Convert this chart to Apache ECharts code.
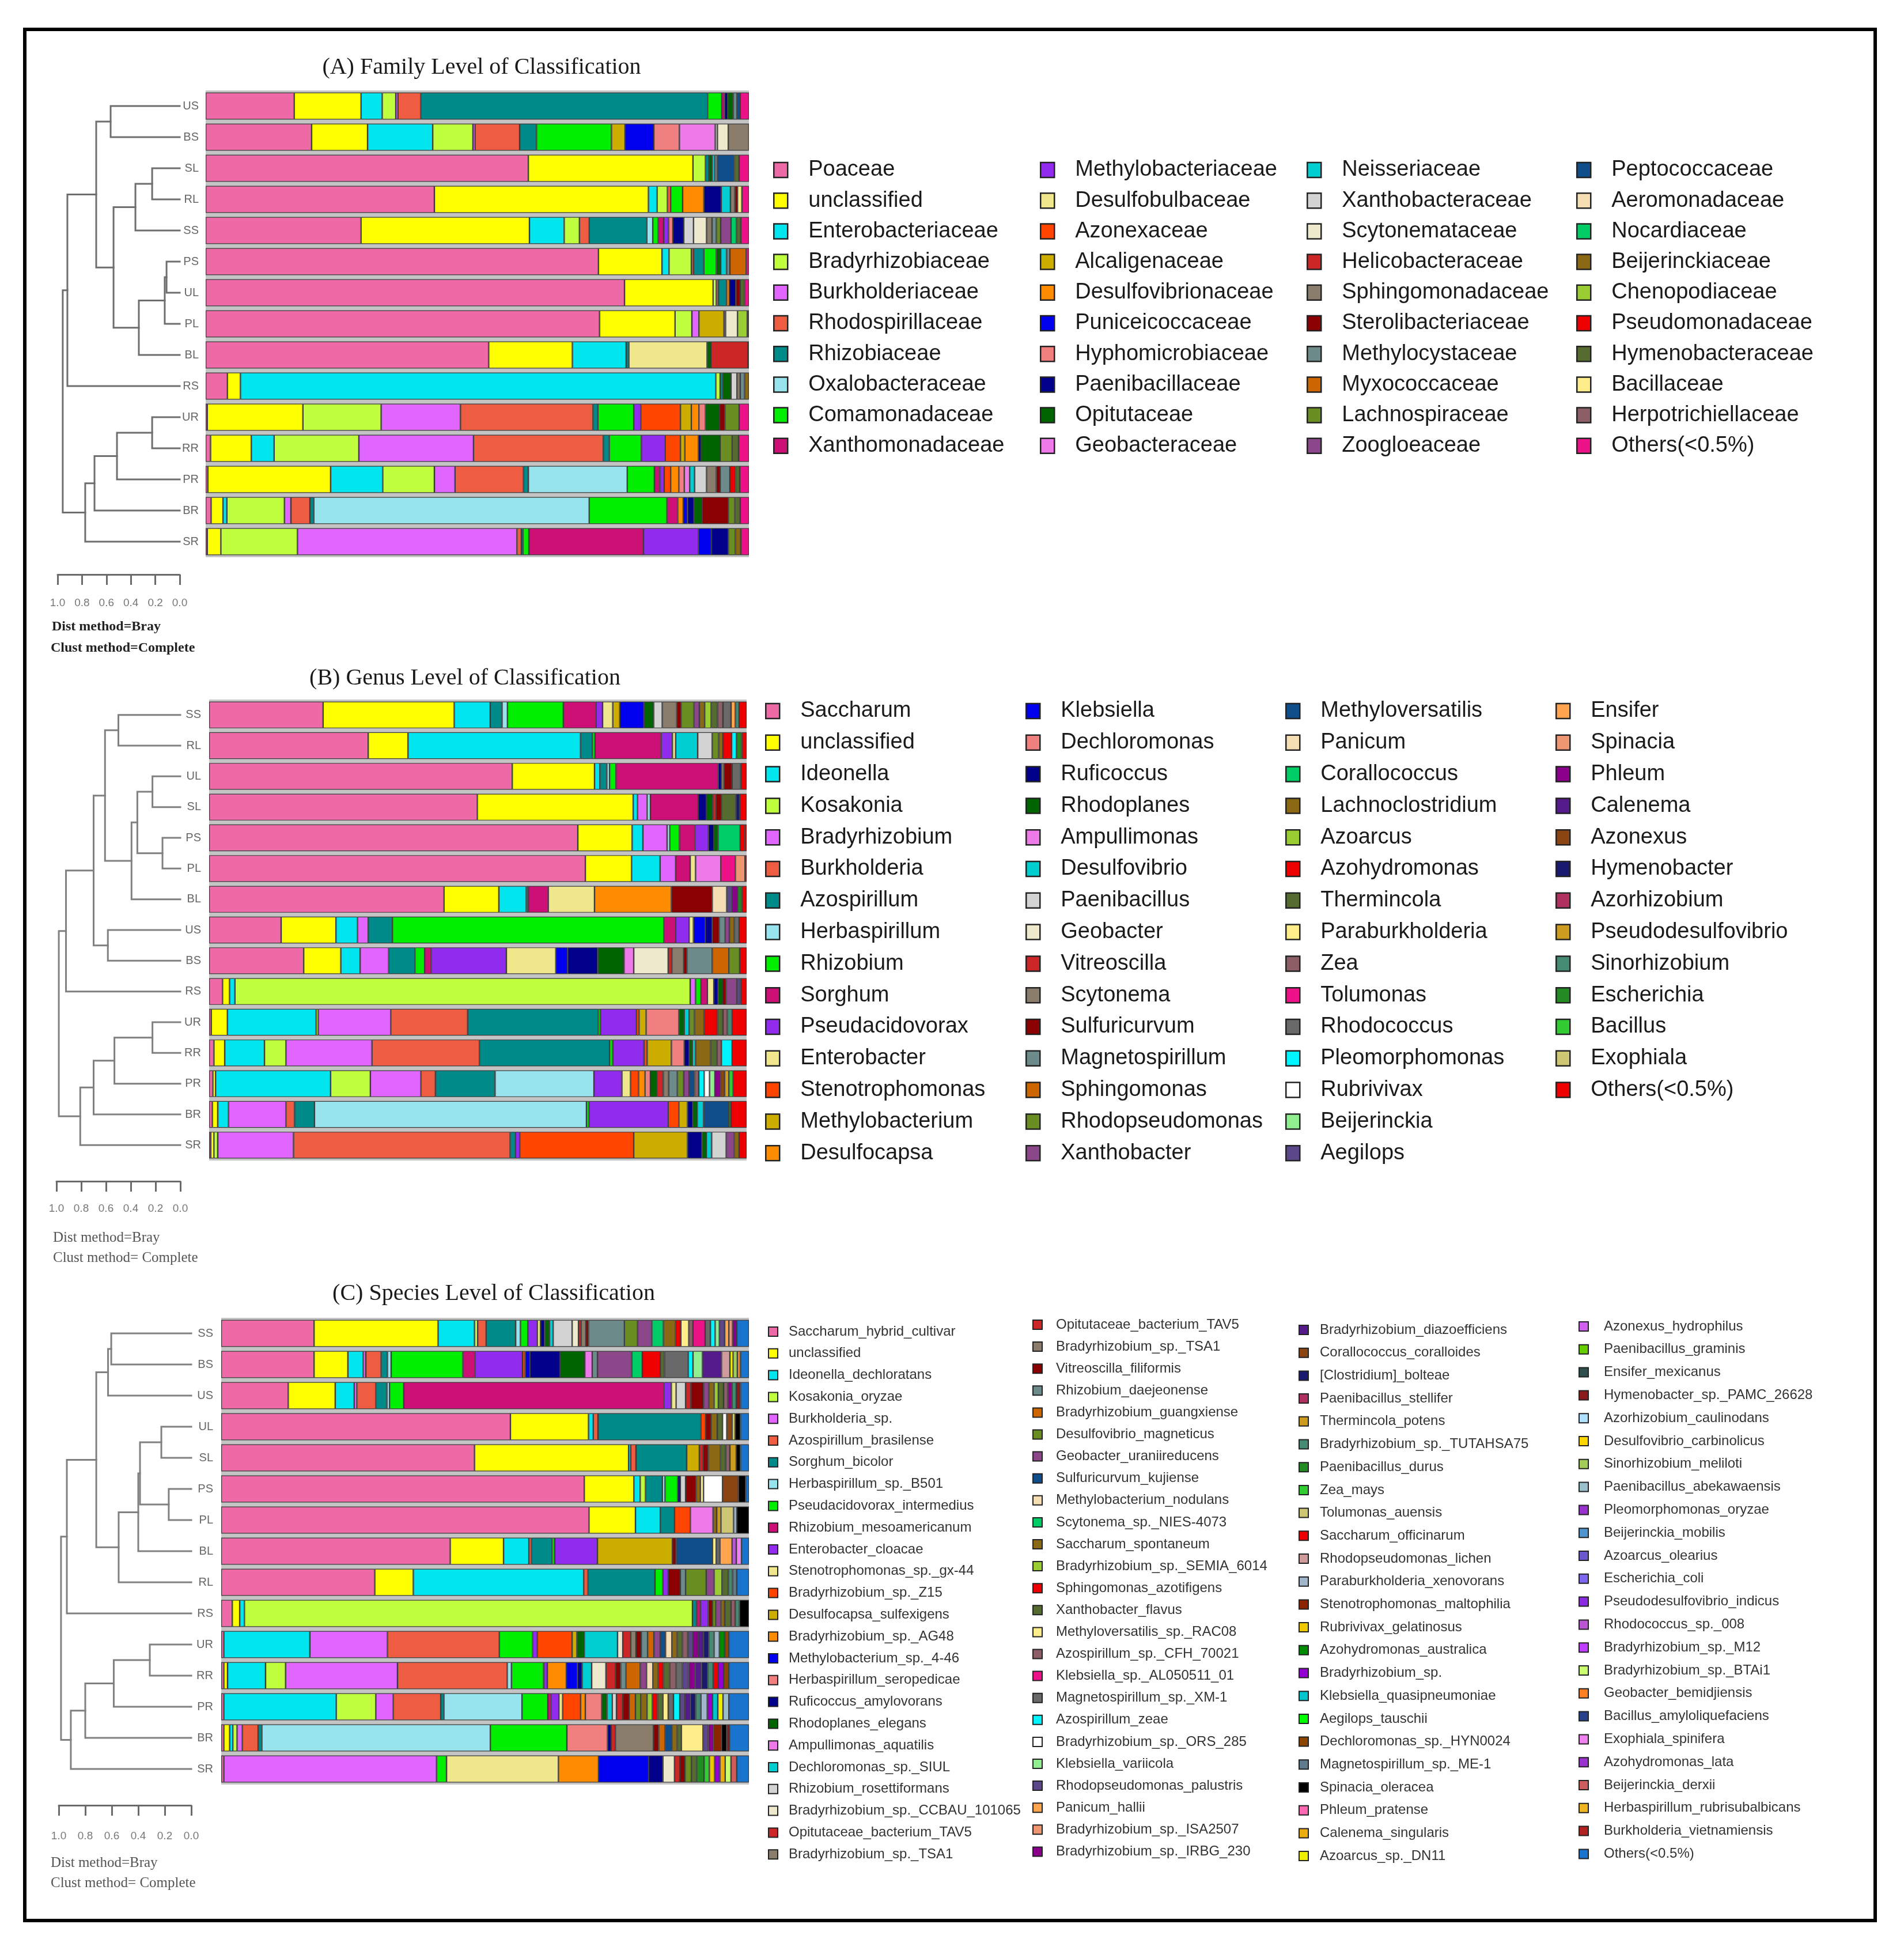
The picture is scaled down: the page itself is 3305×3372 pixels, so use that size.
<!DOCTYPE html>
<html><head><meta charset="utf-8">
<script src="https://cdn.jsdelivr.net/npm/echarts@6/dist/echarts.min.js"></script>
<style>html,body{margin:0;padding:0;background:#fff}#main{width:3305px;height:3372px}</style>
</head><body><div id="main"></div>
<script>
// ---------- colours (shared palette, legend order) ----------
const PALETTE = [
'#EE6AA7','#FFFF00','#00E5EE','#C0FF3E','#E066FF','#EE5C42','#008B8B','#98E4EE','#00EE00','#CD1076',
'#912CEE','#F0E68C','#FF4500','#CDAD00','#FF8C00','#0000EE','#F08080','#00008B','#006400','#EE7AE9',
'#00CED1','#D3D3D3','#EEE8CD','#CD2626','#8B7D6B','#8B0000','#6E8B8B','#CD6600','#6B8E23','#8B4789',
'#104E8B','#F5DEB3','#00CD66','#8B6914','#9ACD32','#EE0000','#556B2F','#FFEC8B','#8B5F65','#EE1289',
'#696969','#00F5FF','#FFFFFF','#90EE90','#5D478B','#FFA54F','#EE9572','#8B008B','#551A8B','#8B4513',
'#191970','#B03060','#CD9B1D','#458B74','#228B22','#32CD32','#CDC673','#EE0000','#CD9B9B','#9FB6CD',
'#8B2500','#EEC900','#008B00','#9400D3','#00C5CD','#00FF00','#8B4500','#607B8B','#000000','#FF69B4',
'#EEAD0E','#EEEE00','#D15FEE','#66CD00','#2F4F4F','#8B1A1A','#B0E2FF','#FFD700','#A2CD5A','#9AC0CD',
'#9932CC','#4F94CD','#6A5ACD','#7B68EE','#8A2BE2','#BA55D3','#BF3EFF','#CAFF70','#FF7F24','#27408B',
'#EE82EE','#9A32CD','#CD5C5C','#EEB422','#B22222','#1874CD'];

// ---------- taxa ----------
const TAXA_A = ['Poaceae','unclassified','Enterobacteriaceae','Bradyrhizobiaceae','Burkholderiaceae','Rhodospirillaceae','Rhizobiaceae','Oxalobacteraceae','Comamonadaceae','Xanthomonadaceae',
'Methylobacteriaceae','Desulfobulbaceae','Azonexaceae','Alcaligenaceae','Desulfovibrionaceae','Puniceicoccaceae','Hyphomicrobiaceae','Paenibacillaceae','Opitutaceae','Geobacteraceae',
'Neisseriaceae','Xanthobacteraceae','Scytonemataceae','Helicobacteraceae','Sphingomonadaceae','Sterolibacteriaceae','Methylocystaceae','Myxococcaceae','Lachnospiraceae','Zoogloeaceae',
'Peptococcaceae','Aeromonadaceae','Nocardiaceae','Beijerinckiaceae','Chenopodiaceae','Pseudomonadaceae','Hymenobacteraceae','Bacillaceae','Herpotrichiellaceae','Others(<0.5%)'];
const TAXA_B = ['Saccharum','unclassified','Ideonella','Kosakonia','Bradyrhizobium','Burkholderia','Azospirillum','Herbaspirillum','Rhizobium','Sorghum',
'Pseudacidovorax','Enterobacter','Stenotrophomonas','Methylobacterium','Desulfocapsa','Klebsiella','Dechloromonas','Ruficoccus','Rhodoplanes','Ampullimonas',
'Desulfovibrio','Paenibacillus','Geobacter','Vitreoscilla','Scytonema','Sulfuricurvum','Magnetospirillum','Sphingomonas','Rhodopseudomonas','Xanthobacter',
'Methyloversatilis','Panicum','Corallococcus','Lachnoclostridium','Azoarcus','Azohydromonas','Thermincola','Paraburkholderia','Zea','Tolumonas',
'Rhodococcus','Pleomorphomonas','Rubrivivax','Beijerinckia','Aegilops','Ensifer','Spinacia','Phleum','Calenema','Azonexus',
'Hymenobacter','Azorhizobium','Pseudodesulfovibrio','Sinorhizobium','Escherichia','Bacillus','Exophiala','Others(<0.5%)'];
const TAXA_C = ['Saccharum_hybrid_cultivar','unclassified','Ideonella_dechloratans','Kosakonia_oryzae','Burkholderia_sp.','Azospirillum_brasilense','Sorghum_bicolor','Herbaspirillum_sp._B501','Pseudacidovorax_intermedius','Rhizobium_mesoamericanum',
'Enterobacter_cloacae','Stenotrophomonas_sp._gx-44','Bradyrhizobium_sp._Z15','Desulfocapsa_sulfexigens','Bradyrhizobium_sp._AG48','Methylobacterium_sp._4-46','Herbaspirillum_seropedicae','Ruficoccus_amylovorans','Rhodoplanes_elegans','Ampullimonas_aquatilis',
'Dechloromonas_sp._SIUL','Rhizobium_rosettiformans','Bradyrhizobium_sp._CCBAU_101065','Opitutaceae_bacterium_TAV5','Bradyrhizobium_sp._TSA1','Vitreoscilla_filiformis','Rhizobium_daejeonense','Bradyrhizobium_guangxiense','Desulfovibrio_magneticus','Geobacter_uraniireducens',
'Sulfuricurvum_kujiense','Methylobacterium_nodulans','Scytonema_sp._NIES-4073','Saccharum_spontaneum','Bradyrhizobium_sp._SEMIA_6014','Sphingomonas_azotifigens','Xanthobacter_flavus','Methyloversatilis_sp._RAC08','Azospirillum_sp._CFH_70021','Klebsiella_sp._AL050511_01',
'Magnetospirillum_sp._XM-1','Azospirillum_zeae','Bradyrhizobium_sp._ORS_285','Klebsiella_variicola','Rhodopseudomonas_palustris','Panicum_hallii','Bradyrhizobium_sp._ISA2507','Bradyrhizobium_sp._IRBG_230','Bradyrhizobium_diazoefficiens','Corallococcus_coralloides',
'[Clostridium]_bolteae','Paenibacillus_stellifer','Thermincola_potens','Bradyrhizobium_sp._TUTAHSA75','Paenibacillus_durus','Zea_mays','Tolumonas_auensis','Saccharum_officinarum','Rhodopseudomonas_lichen','Paraburkholderia_xenovorans',
'Stenotrophomonas_maltophilia','Rubrivivax_gelatinosus','Azohydromonas_australica','Bradyrhizobium_sp.','Klebsiella_quasipneumoniae','Aegilops_tauschii','Dechloromonas_sp._HYN0024','Magnetospirillum_sp._ME-1','Spinacia_oleracea','Phleum_pratense',
'Calenema_singularis','Azoarcus_sp._DN11','Azonexus_hydrophilus','Paenibacillus_graminis','Ensifer_mexicanus','Hymenobacter_sp._PAMC_26628','Azorhizobium_caulinodans','Desulfovibrio_carbinolicus','Sinorhizobium_meliloti','Paenibacillus_abekawaensis',
'Pleomorphomonas_oryzae','Beijerinckia_mobilis','Azoarcus_olearius','Escherichia_coli','Pseudodesulfovibrio_indicus','Rhodococcus_sp._008','Bradyrhizobium_sp._M12','Bradyrhizobium_sp._BTAi1','Geobacter_bemidjiensis','Bacillus_amyloliquefaciens',
'Exophiala_spinifera','Azohydromonas_lata','Beijerinckia_derxii','Herbaspirillum_rubrisubalbicans','Burkholderia_vietnamiensis','Others(<0.5%)'];

// ---------- sample order (top to bottom) ----------
const SAMPLES_A = ['US','BS','SL','RL','SS','PS','UL','PL','BL','RS','UR','RR','PR','BR','SR'];
const SAMPLES_B = ['SS','RL','UL','SL','PS','PL','BL','US','BS','RS','UR','RR','PR','BR','SR'];
const SAMPLES_C = ['SS','BS','US','UL','SL','PS','PL','BL','RL','RS','UR','RR','PR','BR','SR'];

// ---------- relative abundance (%), keyed by taxon index ----------
const A_US = {0:16.3,1:12.3,2:3.9,3:2.5,4:0.4,5:4.2,6:52.8,8:2.6,9:0.5,17:0.6,18:1.0,26:0.7,30:0.6,39:1.6};
const A_BS = {0:19.5,1:10.3,2:12.0,3:7.4,4:0.4,5:8.2,6:3.1,8:13.8,13:2.5,15:5.3,16:4.7,19:6.6,21:0.4,22:2.0,24:3.8};
const A_SL = {0:59.4,1:30.3,3:2.3,6:0.6,18:0.6,20:0.5,26:0.5,30:3.1,36:0.9,39:1.8};
const A_RL = {0:42.1,1:39.4,2:1.6,3:1.9,5:0.6,8:2.2,14:3.9,17:3.2,20:1.7,24:0.8,25:0.5,37:0.8,39:1.3};
const A_SS = {0:28.6,1:31.0,2:6.4,3:2.8,5:1.8,6:10.6,7:1.1,8:1.0,9:1.0,10:0.9,16:0.8,17:2.0,21:1.8,22:2.4,24:1.0,26:0.8,28:0.8,29:1.9,32:1.0,36:0.8,39:1.5};
const A_PS = {0:72.3,1:11.7,2:1.3,3:4.1,5:0.4,6:1.9,8:2.3,18:0.8,20:1.1,26:0.6,27:3.0,39:0.5};
const A_UL = {0:77.1,1:16.3,3:0.6,5:0.4,6:1.5,14:0.5,17:1.2,25:0.8,36:0.8,39:0.8};
const A_PL = {0:72.5,1:13.9,3:3.1,4:1.3,13:4.6,19:0.3,22:2.2,34:1.8,36:0.3};
const A_BL = {0:52.1,1:15.4,2:9.9,6:0.5,11:14.4,18:0.7,23:6.8,39:0.2};
const A_RS = {0:4.0,1:2.4,2:87.5,3:0.8,6:0.5,18:1.5,21:1.1,24:0.6,26:0.8,33:0.8};
const A_UR = {0:0.3,1:17.6,3:14.4,4:14.6,5:24.4,6:0.9,8:6.6,10:1.3,12:7.3,13:2.0,14:1.4,16:1.2,18:2.6,25:1.0,28:2.6,39:1.8};
const A_RR = {0:0.9,1:7.5,2:4.2,3:15.6,4:21.1,5:23.9,6:1.1,8:5.9,10:4.4,12:2.8,13:0.8,14:2.5,17:0.5,18:3.5,28:2.2,36:1.2,39:1.9};
const A_PR = {0:0.4,1:22.6,2:9.6,3:9.5,4:3.8,5:12.6,6:0.9,7:18.2,8:5.0,9:1.0,10:0.8,12:1.2,14:1.5,16:1.0,19:1.0,20:0.9,21:2.2,24:1.8,25:0.7,26:1.8,35:1.0,36:0.8,39:1.7};
const A_BR = {0:1.0,1:2.2,2:0.7,3:10.6,4:1.2,5:3.5,6:0.7,7:50.7,8:14.3,9:2.0,14:1.0,15:0.8,17:1.2,18:1.5,25:4.8,28:1.2,36:1.0,39:1.6};
const A_SR = {0:0.3,1:2.5,3:14.1,4:40.4,5:0.8,6:0.3,8:1.1,9:21.1,10:10.1,15:2.4,17:3.1,28:1.3,33:1.0,39:1.5};

const B_SS = {0:21.2,1:24.4,2:6.7,6:2.2,7:1.0,8:10.4,9:6.1,10:1.2,11:1.9,13:1.3,15:4.5,18:1.8,21:1.6,24:2.7,25:0.8,28:2.4,29:1.0,33:1.0,34:1.2,36:1.2,38:1.0,40:1.5,45:0.8,53:0.7,57:1.4};
const B_RL = {0:29.6,1:7.4,2:32.1,6:2.2,8:0.5,9:12.3,10:2.1,11:0.6,20:4.1,21:2.7,28:1.2,33:0.8,35:1.6,41:0.9,54:1.0,57:0.9};
const B_UL = {0:56.4,1:15.3,2:1.0,6:1.3,7:0.5,8:1.2,9:19.0,17:0.6,24:0.5,25:1.5,40:1.6,57:1.1};
const B_SL = {0:49.9,1:29.0,2:0.8,4:1.8,7:0.6,9:8.9,17:1.5,18:1.2,23:0.6,25:1.0,36:2.7,50:0.7,57:1.3};
const B_PS = {0:68.6,1:10.1,2:2.0,4:4.5,7:0.5,8:1.8,9:2.9,10:2.5,17:1.0,18:0.8,32:4.1,35:0.8,57:0.4};
const B_PL = {0:70.0,1:8.6,2:5.3,4:2.9,9:2.7,11:1.0,19:4.7,39:2.7,46:1.8,57:0.3};
const B_BL = {0:43.7,1:10.2,2:5.1,6:0.4,9:3.7,11:8.6,14:14.3,25:7.6,31:2.7,44:1.0,47:1.0,54:0.8,57:0.9};
const B_US = {0:13.4,1:10.2,2:4.0,4:2.0,6:4.5,8:50.5,9:2.2,10:2.5,11:0.8,15:2.2,17:1.3,25:1.3,26:1.1,29:0.8,33:0.9,40:0.9,57:1.4};
const B_BS = {0:17.6,1:6.9,2:3.6,4:5.3,6:4.9,8:1.8,9:1.2,10:14.0,11:9.2,15:2.2,17:5.6,18:4.9,19:1.8,22:6.4,23:0.7,24:2.2,25:0.6,26:4.7,27:3.1,28:2.0,57:1.3};
const B_RS = {0:2.5,1:1.3,2:1.0,3:84.7,4:1.0,8:1.0,9:1.2,11:1.2,17:0.8,18:0.8,25:0.7,29:2.0,44:0.7,57:1.1};
const B_UR = {0:0.4,1:3.0,2:16.5,3:0.4,4:13.5,5:14.3,6:24.3,8:0.4,10:6.7,12:0.5,13:1.3,16:6.1,18:1.0,20:0.9,28:1.0,33:1.8,35:2.5,36:1.0,38:0.8,53:0.9,57:2.7};
const B_RR = {0:0.9,1:2.0,2:7.4,3:4.0,4:16.0,5:20.0,6:24.2,8:0.6,10:5.8,12:0.6,13:4.5,16:2.4,17:0.9,18:0.6,20:0.6,33:2.8,36:1.2,38:0.8,41:2.0,57:2.7};
const B_PR = {0:0.7,1:0.5,2:21.4,3:7.4,4:9.4,5:2.7,6:11.1,7:18.4,10:5.2,11:1.6,12:1.5,14:1.2,16:1.0,18:1.2,23:1.2,24:1.0,26:1.6,28:1.2,29:1.0,30:1.0,38:0.8,41:1.0,42:1.0,43:1.0,47:1.0,49:0.8,52:0.8,55:0.8,57:2.5};
const B_BR = {0:0.6,1:1.0,2:2.0,4:10.7,5:1.6,6:3.7,7:50.6,8:0.5,10:14.7,12:2.0,13:1.6,17:1.0,18:0.8,20:1.2,30:4.7,54:0.4,57:2.9};
const B_SR = {0:0.3,1:0.6,3:0.7,4:14.1,5:40.3,6:1.0,10:0.8,12:21.2,13:10.0,17:2.7,18:0.8,20:1.0,21:2.7,29:1.5,33:0.9,57:1.4};

const C_SS = {0:17.6,1:23.5,2:6.9,3:0.6,5:1.6,6:5.6,7:0.9,8:1.4,10:1.8,11:0.6,17:0.8,18:0.9,20:0.7,21:3.6,22:1.2,23:0.5,24:0.9,25:0.5,26:6.8,28:2.5,29:2.7,32:2.2,33:2.3,35:1.0,37:1.5,38:0.8,39:2.3,40:1.0,41:0.9,43:0.8,44:1.0,45:0.8,46:0.7,47:0.8,95:2.3};
const C_BS = {0:17.6,1:6.4,2:2.9,4:0.5,5:2.9,6:1.2,7:0.7,8:13.6,9:2.3,10:9.0,12:0.5,15:0.9,17:5.7,18:4.7,19:1.4,26:1.0,29:6.5,32:2.0,35:3.4,36:0.8,40:4.5,41:0.9,43:1.8,48:3.6,58:1.6,71:0.6,78:0.8,88:0.6,95:1.6};
const C_US = {0:12.7,1:8.9,2:3.6,4:0.5,5:3.6,6:2.1,7:0.5,8:2.7,9:49.3,10:1.4,11:0.9,21:1.8,23:1.0,25:2.4,29:1.0,33:1.0,34:0.8,36:1.0,38:0.8,47:0.8,53:0.8,75:0.8,95:1.6};
const C_UL = {0:54.8,1:14.8,2:0.9,5:0.9,6:19.5,12:0.9,25:1.0,33:1.2,36:1.0,42:0.8,49:1.0,56:0.6,68:1.0,95:1.6};
const C_SL = {0:48.0,1:29.2,2:0.4,5:1.0,6:9.6,13:2.4,23:0.7,25:1.0,33:2.3,36:1.0,38:0.8,52:1.2,68:0.8,95:1.6};
const C_PS = {0:68.8,1:9.4,2:1.2,3:1.0,6:3.2,7:0.5,8:2.4,17:0.5,21:1.0,25:2.0,33:0.8,37:0.6,42:3.6,49:3.0,68:1.4,95:0.6};
const C_PL = {0:69.7,1:8.8,2:4.7,6:2.7,12:3.0,19:4.3,33:0.7,52:0.8,56:2.4,59:0.6,68:2.3};
const C_BL = {0:43.4,1:10.1,2:4.8,5:0.5,6:3.9,8:0.5,10:8.1,13:14.2,25:0.7,30:6.9,37:0.7,40:0.7,45:2.3,85:0.8,90:1.0,95:1.4};
const C_RL = {0:29.1,1:7.3,2:32.3,5:0.8,6:12.7,8:1.5,10:1.0,25:2.3,26:1.0,28:3.9,29:1.5,34:1.5,36:1.2,53:0.8,67:0.8,95:2.3};
const C_RS = {0:2.1,1:1.4,2:0.9,3:84.9,6:0.8,9:0.7,10:1.5,25:0.8,28:0.6,29:1.0,33:0.7,36:1.2,38:0.8,53:0.8,68:1.8};
const C_UR = {0:0.5,2:16.3,4:14.7,5:21.2,8:6.3,10:0.9,12:6.6,13:0.9,18:1.4,20:6.3,22:1.0,23:1.5,24:1.0,25:1.0,26:1.2,27:1.2,29:1.2,30:1.0,31:1.2,33:1.0,36:1.0,38:1.0,44:1.0,47:1.0,48:1.0,50:1.0,53:1.0,59:1.0,62:1.0,66:0.8,95:3.8};
const C_RR = {0:0.5,1:0.7,2:7.2,3:3.8,4:21.2,5:20.8,7:0.8,8:6.1,10:0.7,14:3.6,15:2.1,17:0.9,20:1.8,22:2.7,23:1.8,25:1.0,26:1.0,27:2.7,29:1.2,31:1.2,33:1.0,35:1.0,36:1.2,38:1.2,40:1.2,44:1.2,47:1.2,48:1.2,50:1.2,53:1.0,57:1.0,63:1.0,66:1.0,95:3.8};
const C_PR = {0:0.5,2:21.3,3:7.5,4:3.3,5:9.0,6:0.6,7:14.8,8:4.9,9:0.6,10:1.5,11:0.7,12:3.4,14:0.9,16:3.1,18:1.0,20:1.0,21:0.8,23:1.2,25:1.2,27:1.2,28:1.0,33:1.2,34:1.0,35:1.0,36:1.0,37:1.0,40:1.0,41:1.2,44:1.0,48:1.0,50:1.0,53:1.0,59:1.2,63:1.0,64:1.0,71:1.0,79:1.1,95:3.8};
const C_BR = {0:0.5,1:1.1,2:0.6,3:0.8,4:1.0,5:3.0,6:0.7,7:43.3,8:14.5,16:7.7,17:0.7,23:0.8,24:7.2,25:1.0,27:1.2,30:1.3,33:1.0,36:0.8,37:4.1,44:1.0,47:1.0,60:1.5,68:1.0,75:0.5,95:3.7};
const C_SR = {0:0.5,4:40.3,8:1.9,11:21.2,14:7.6,15:9.5,17:2.7,22:2.2,23:1.0,25:1.0,28:1.2,36:1.0,54:1.4,55:1.0,61:1.0,63:1.0,70:1.0,87:1.1,92:1.1,95:2.3};

// ---------- dendrograms: [childA, childB, height]; '#k' = k-th merge ----------
const MERGES_A = [['US','BS',0.566],['SL','RL',0.226],['#1','SS',0.363],['PS','UL',0.108],['#3','PL',0.123],['#4','BL',0.335],
  ['#2','#5',0.542],['#0','#6',0.684],['#7','RS',0.92],['UR','RR',0.226],['#9','PR',0.514],['#10','BR',0.698],['#11','SR',0.774],['#8','#12',0.958]];
const MERGES_B = [['SS','RL',0.50],['UL','SL',0.225],['PS','PL',0.144],['#1','#2',0.347],['#3','BL',0.394],['#0','#4',0.608],
  ['US','BS',0.585],['#5','#6',0.70],['#7','RS',0.923],['UR','RR',0.225],['#9','PR',0.532],['#10','BR',0.70],['#11','SR',0.808],['#8','#12',0.981]];
const MERGES_C = [['SS','BS',0.604],['#0','US',0.628],['UL','SL',0.226],['PS','PL',0.17],['#2','#3',0.387],['#4','BL',0.40],
  ['#5','RL',0.548],['#1','#6',0.717],['#7','RS',0.939],['UR','RR',0.313],['#9','PR',0.585],['#10','BR',0.80],['#11','SR',0.909],['#8','#12',0.983]];

// ---------- build ----------
const ROWS_A = {US:A_US,BS:A_BS,SL:A_SL,RL:A_RL,SS:A_SS,PS:A_PS,UL:A_UL,PL:A_PL,BL:A_BL,RS:A_RS,UR:A_UR,RR:A_RR,PR:A_PR,BR:A_BR,SR:A_SR};
const ROWS_B = {SS:B_SS,RL:B_RL,UL:B_UL,SL:B_SL,PS:B_PS,PL:B_PL,BL:B_BL,US:B_US,BS:B_BS,RS:B_RS,UR:B_UR,RR:B_RR,PR:B_PR,BR:B_BR,SR:B_SR};
const ROWS_C = {SS:C_SS,BS:C_BS,US:C_US,UL:C_UL,SL:C_SL,PS:C_PS,PL:C_PL,BL:C_BL,RL:C_RL,RS:C_RS,UR:C_UR,RR:C_RR,PR:C_PR,BR:C_BR,SR:C_SR};

function barSeries(stack, taxa, samples, rows, axis) {
  return taxa.map((name, t) => ({
    type: 'bar', name, stack, xAxisIndex: axis, yAxisIndex: axis,
    barCategoryGap: '13%', silent: true,
    itemStyle: { color: PALETTE[t], borderColor: '#3a3a3a', borderWidth: 1.2 },
    data: samples.map(s => rows[s][t] != null ? rows[s][t] : '-')
  }));
}
function dendro(samples, merges, axis, color) {
  const pos = {};
  samples.forEach((s, i) => pos[s] = { y: i, h: 0 });
  const data = [];
  merges.forEach((m, k) => {
    const a = pos[m[0]], b = pos[m[1]], h = m[2];
    data.push({ coords: [[a.h, a.y], [h, a.y], [h, b.y], [b.h, b.y]] });
    pos['#' + k] = { y: (a.y + b.y) / 2, h };
  });
  return { type: 'lines', coordinateSystem: 'cartesian2d', polyline: true, silent: true,
    xAxisIndex: axis, yAxisIndex: axis, data,
    lineStyle: { color, width: 3, opacity: 1, cap: 'square' } };
}
function range(a, b) { const r = []; for (let i = a; i <= b; i++) r.push(i); return r; }
function legendCol(taxa, idxs, left, top, gap, big, pad) {
  return {
    orient: 'vertical', left, top, itemGap: gap, padding: 0, icon: 'rect', selectedMode: false,
    itemWidth: big ? 24 : 16, itemHeight: big ? 26 : 16,
    textStyle: { fontFamily: "'Liberation Sans', Arial, sans-serif", fontSize: big ? 38 : 24,
      color: big ? '#1a1a1a' : '#333', lineHeight: big ? 40 : 26, padding: [0, 0, 0, pad] },
    data: idxs.map(i => ({ name: taxa[i],
      itemStyle: { color: PALETTE[i], borderColor: '#222', borderWidth: big ? 2.5 : 2 } }))
  };
}

const grids = [
  { left: 357, top: 157, width: 943, height: 810, show: true, backgroundColor: '#c4c4c4', borderWidth: 0 },
  { left: 100, top: 157, width: 212, height: 810 },
  { left: 363, top: 1214, width: 933, height: 800, show: true, backgroundColor: '#c4c4c4', borderWidth: 0 },
  { left: 98, top: 1214, width: 215, height: 800 },
  { left: 384, top: 2287, width: 916, height: 810, show: true, backgroundColor: '#c4c4c4', borderWidth: 0 },
  { left: 102, top: 2287, width: 230, height: 810 }
];
const xAxes = [], yAxes = [];
const panels = [
  { samples: SAMPLES_A, offset: 30, margin: 40, lab: 12 },
  { samples: SAMPLES_B, offset: 36, margin: 38, lab: 14 },
  { samples: SAMPLES_C, offset: 36, margin: 44, lab: 14 }
];
panels.forEach((p, k) => {
  const bi = 2 * k, di = 2 * k + 1;
  xAxes[bi] = { type: 'value', gridIndex: bi, min: 0, max: 100, show: false };
  yAxes[bi] = { type: 'category', gridIndex: bi, data: p.samples, inverse: true,
    axisLine: { show: false }, axisTick: { show: false },
    axisLabel: { fontSize: 20, color: '#666', margin: p.lab, fontFamily: "'Liberation Sans Narrow','Liberation Sans',sans-serif" } };
  xAxes[di] = { type: 'value', gridIndex: di, min: 0, max: 1, interval: 0.2, inverse: true,
    position: 'bottom', offset: p.offset, splitLine: { show: false },
    axisLine: { show: true, onZero: false, lineStyle: { color: '#6a6a6a', width: 3 } },
    axisTick: { show: true, length: 18, lineStyle: { color: '#6a6a6a', width: 3 } },
    axisLabel: { color: '#777', fontSize: 19, margin: p.margin, formatter: v => v.toFixed(1) } };
  yAxes[di] = { type: 'value', gridIndex: di, min: -0.5, max: 14.5, inverse: true, show: false };
});

const series = [].concat(
  barSeries('A', TAXA_A, SAMPLES_A, ROWS_A, 0),
  barSeries('B', TAXA_B, SAMPLES_B, ROWS_B, 2),
  barSeries('C', TAXA_C, SAMPLES_C, ROWS_C, 4),
  [dendro(SAMPLES_A, MERGES_A, 1, '#6e6e6e'), dendro(SAMPLES_B, MERGES_B, 3, '#808080'), dendro(SAMPLES_C, MERGES_C, 5, '#808080')]
);

const legends = [
  legendCol(TAXA_A, range(0, 9), 1342, 275, 13.2, true, 31),
  legendCol(TAXA_A, range(10, 19), 1805, 275, 13.2, true, 31),
  legendCol(TAXA_A, range(20, 29), 2268, 275, 13.2, true, 31),
  legendCol(TAXA_A, range(30, 39), 2736, 275, 13.2, true, 31),
  legendCol(TAXA_B, range(0, 14), 1328, 1214, 14.8, true, 31),
  legendCol(TAXA_B, range(15, 29), 1780, 1214, 14.8, true, 31),
  legendCol(TAXA_B, range(30, 44), 2231, 1214, 14.8, true, 31),
  legendCol(TAXA_B, range(45, 57), 2700, 1214, 14.8, true, 31),
  legendCol(TAXA_C, range(0, 24), 1333, 2298, 11.8, false, 14),
  legendCol(TAXA_C, range(23, 47), 1792, 2286, 12.1, false, 19),
  legendCol(TAXA_C, range(48, 71), 2254, 2295, 13.7, false, 15),
  legendCol(TAXA_C, range(72, 95), 2740, 2289, 13.8, false, 22)
];

function txt(text, x, y, font, fill, align) {
  return { type: 'text', x, y, silent: true,
    style: { text, font, fill, align: align || 'left', verticalAlign: 'middle',
      textAlign: align || 'left', textVerticalAlign: 'middle' } };
}
const SERIF = "'Liberation Serif','DejaVu Serif',serif";
const graphic = [
  { type: 'rect', silent: true, shape: { x: 43, y: 51, width: 3212, height: 3282 },
    style: { fill: 'none', stroke: '#000', lineWidth: 6 } },
  txt('(A) Family Level of Classification', 836, 117, '40px ' + SERIF, '#1a1a1a', 'center'),
  txt('(B) Genus Level of Classification', 807, 1177, '40px ' + SERIF, '#1a1a1a', 'center'),
  txt('(C) Species Level of Classification', 857, 2245, '40px ' + SERIF, '#1a1a1a', 'center'),
  txt('Dist method=Bray', 90, 1088, 'bold 24px ' + SERIF, '#222'),
  txt('Clust method=Complete', 88, 1125, 'bold 24px ' + SERIF, '#222'),
  txt('Dist method=Bray', 92, 2148, '25px ' + SERIF, '#555'),
  txt('Clust method= Complete', 92, 2183, '25px ' + SERIF, '#555'),
  txt('Dist method=Bray', 88, 3233, '25px ' + SERIF, '#555'),
  txt('Clust method= Complete', 88, 3268, '25px ' + SERIF, '#555')
];

const chart = echarts.init(document.getElementById('main'), null, { renderer: 'canvas' });
chart.setOption({
  backgroundColor: '#fff', animation: false,
  grid: grids, xAxis: xAxes, yAxis: yAxes, legend: legends, series, graphic
});
</script></body></html>
